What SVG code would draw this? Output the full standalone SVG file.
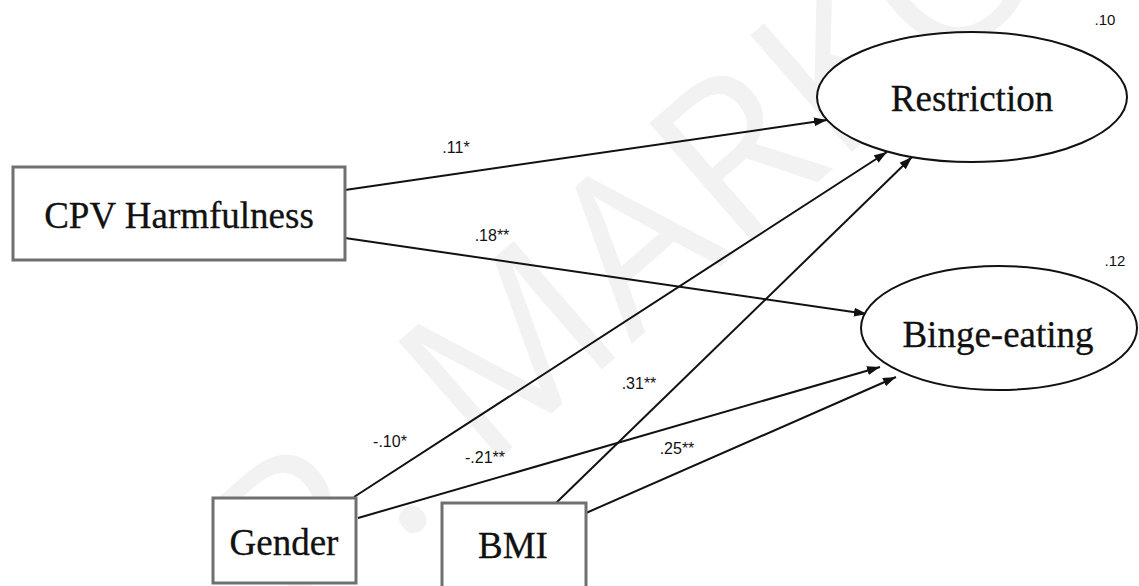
<svg xmlns="http://www.w3.org/2000/svg" width="1139" height="586" viewBox="0 0 1139 586">
<style>
.box{fill:#fff;stroke:#707070;stroke-width:3}
.ell{fill:#fff;stroke:#111;stroke-width:2}
.node{font-family:"Liberation Serif","Times New Roman",serif;font-size:37px;fill:#111;text-anchor:middle;stroke:#111;stroke-width:0.3}
.lbl{font-family:"Liberation Sans",Arial,sans-serif;font-size:16px;fill:#111;text-anchor:middle}
.r2{font-family:"Liberation Sans",Arial,sans-serif;font-size:15px;fill:#111;text-anchor:middle}
.edge{stroke:#111;stroke-width:2;fill:none;marker-end:url(#arr)}
.wm{font-family:"Open Sans","Liberation Sans",sans-serif;font-size:217px;fill:#f2f2f2}
</style>
<defs>
<marker id="arr" markerUnits="userSpaceOnUse" markerWidth="14" markerHeight="10" refX="13" refY="5" orient="auto">
<path d="M0,0.5 L13,5 L0,9.5 z" fill="#111"/>
</marker>
</defs>
<rect width="1139" height="586" fill="#fff"/>
<text class="wm" transform="translate(300,632) rotate(-41)">P. MARKO</text>
<g id="connectors">
<line class="edge" x1="345" y1="190" x2="827" y2="120"/>
<line class="edge" x1="345" y1="238" x2="867" y2="314"/>
<line class="edge" x1="354" y1="497" x2="887" y2="152"/>
<line class="edge" x1="358" y1="518" x2="880" y2="367"/>
<line class="edge" x1="556" y1="503" x2="912" y2="157"/>
<line class="edge" x1="586" y1="513" x2="896" y2="377"/>
<text class="lbl" x="456" y="153">.11*</text>
<text class="lbl" x="492" y="241">.18**</text>
<text class="lbl" x="639" y="389">.31**</text>
<text class="lbl" x="390" y="447">-.10*</text>
<text class="lbl" x="485" y="463">-.21**</text>
<text class="lbl" x="677" y="454">.25**</text>
</g>
<g id="restriction">
<ellipse class="ell" cx="972" cy="97" rx="155" ry="65"/>
<text class="node" x="972" y="111">Restriction</text>
<text class="r2" x="1105" y="25">.10</text>
</g>
<g id="binge">
<ellipse class="ell" cx="999" cy="328" rx="138" ry="62"/>
<text class="node" x="998" y="347">Binge-eating</text>
<text class="r2" x="1115" y="266">.12</text>
</g>
<g id="cpv">
<rect class="box" x="13" y="167" width="332" height="93"/>
<text class="node" x="179" y="228">CPV Harmfulness</text>
</g>
<g id="gender">
<rect class="box" x="213" y="498" width="143" height="85"/>
<text class="node" x="284" y="555">Gender</text>
</g>
<g id="bmi">
<rect class="box" x="442" y="503" width="144" height="92"/>
<text class="node" x="513" y="558">BMI</text>
</g>
</svg>
